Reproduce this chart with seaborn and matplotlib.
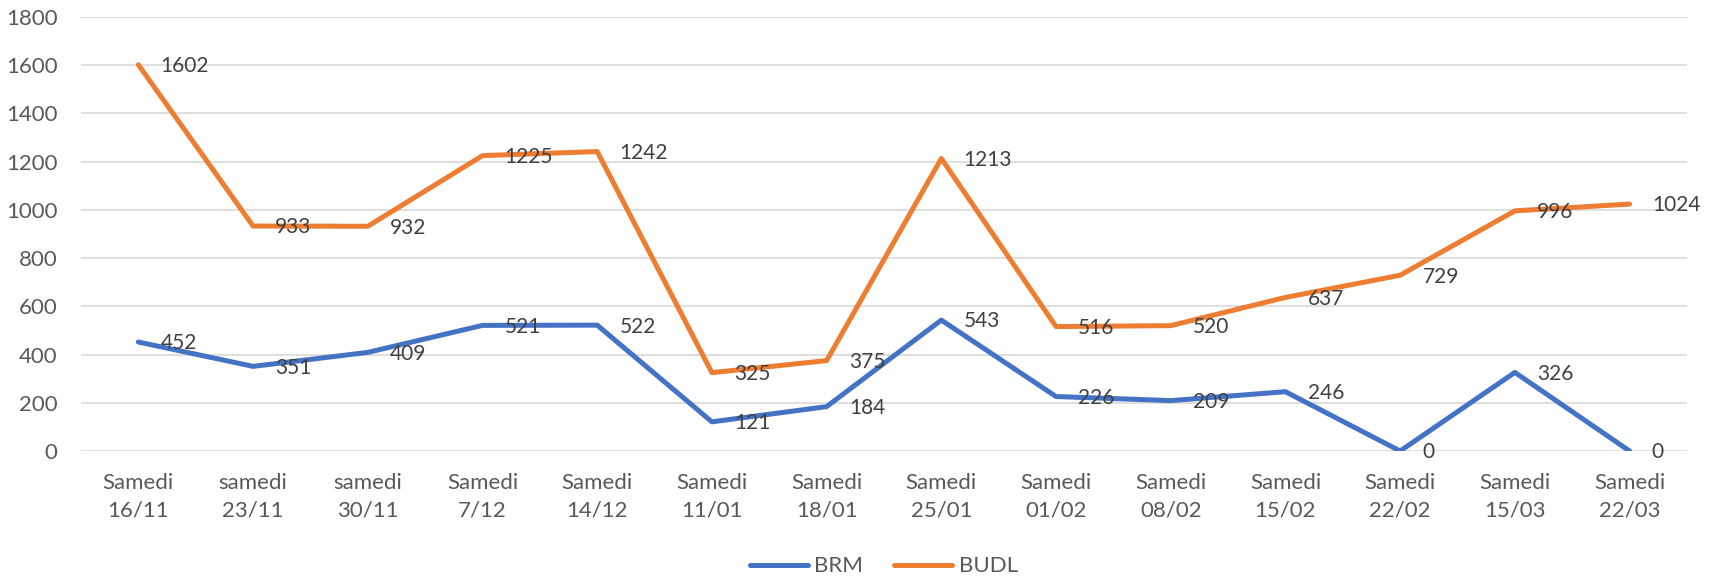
import numpy as np
import pandas as pd
import seaborn as sns
import matplotlib.pyplot as plt

# data
dates = ["Samedi\n16/11", "samedi\n23/11", "samedi\n30/11", "Samedi\n7/12",
         "Samedi\n14/12", "Samedi\n11/01", "Samedi\n18/01", "Samedi\n25/01",
         "Samedi\n01/02", "Samedi\n08/02", "Samedi\n15/02", "Samedi\n22/02",
         "Samedi\n15/03", "Samedi\n22/03"]
brm = [452, 351, 409, 521, 522, 121, 184, 543, 226, 209, 246, 0, 326, 0]
budl = [1602, 933, 932, 1225, 1242, 325, 375, 1213, 516, 520, 637, 729, 996, 1024]
series_names = ["BRM", "BUDL"]
colors = ["#4472C4", "#ED7D31"]

sns.set_style("white")
plt.rcParams["font.family"] = ["Lato", "DejaVu Sans"]

df = pd.DataFrame({
    "idx": list(range(len(dates))) * 2,
    "value": brm + budl,
    "serie": ["BRM"] * len(brm) + ["BUDL"] * len(budl),
})

fig = plt.figure(figsize=(17.27, 5.76), dpi=100)
ax = fig.add_axes([0.0469, 0.217, 0.9299, 0.7535])

sns.lineplot(data=df, x="idx", y="value", hue="serie", hue_order=series_names,
             palette=colors, linewidth=3.6, ax=ax, legend=True,
             solid_capstyle="round")

label_color = "#404040"
for vals in (brm, budl):
    for i, v in enumerate(vals):
        ax.annotate(str(v), (i, v), xytext=(16, -1), textcoords="offset points",
                    ha="left", va="center", fontsize=15, color=label_color)

ax.set_xlim(-0.5, len(dates) - 0.5)
ax.set_ylim(0, 1800)
ax.set_yticks(np.arange(0, 1801, 200))
ax.set_xticks(range(len(dates)))
ax.set_xticklabels(dates, linespacing=1.45)
ax.tick_params(axis="both", length=0, labelsize=16, labelcolor="#595959")
ax.tick_params(axis="y", pad=17)
ax.tick_params(axis="x", pad=16)
ax.grid(axis="y", color="#D9D9D9", linewidth=1.2)
ax.set_axisbelow(True)
for s in ax.spines.values():
    s.set_visible(False)
ax.set_xlabel("")
ax.set_ylabel("")

ax.legend(loc="lower center", bbox_to_anchor=(0.5, -0.335), ncol=2, frameon=False,
          fontsize=16, handlelength=2.6, columnspacing=1.4, handletextpad=0.3,
          labelcolor="#595959")

fig.savefig("out.png", dpi=100)
